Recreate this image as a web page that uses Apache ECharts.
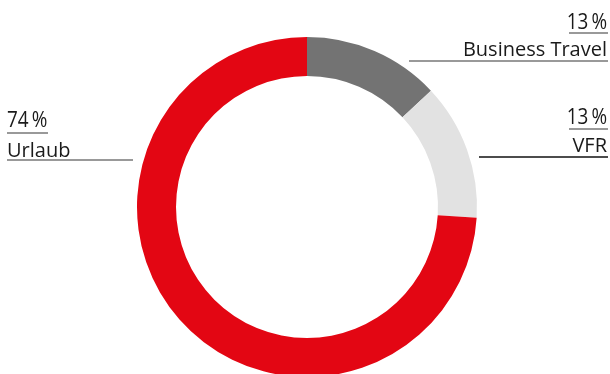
<!DOCTYPE html>
<html>
<head>
<meta charset="utf-8">
<script src="https://cdn.jsdelivr.net/npm/echarts@6/dist/echarts.min.js"></script>
<style>
  html, body { margin: 0; padding: 0; background: #fff; }
  #chart { width: 610px; height: 374px; }
</style>
</head>
<body>
<div id="chart"></div>
<script>
// Travel purpose shares, clockwise from twelve o'clock
const categories = ['Business Travel', 'VFR', 'Urlaub'];
const shares = [13, 13, 74];

const sliceColors = ['#737373', '#e2e2e2', '#e30613'];
const FONT = '"Open Sans", "Noto Sans", sans-serif';
const pct = v => v + '\u2009%';

// Label blocks: anchor x, align, top of value line, top of name line, rule geometry
const labelBoxes = [
  { x: 607, align: 'right', vy: 13, ny: 40, ux0: 569, ux1: 608, uy: 33, lx0: 409, lx1: 608, ly: 61, lineColor: '#777777' },
  { x: 607, align: 'right', vy: 108, ny: 136, ux0: 569, ux1: 608, uy: 129, lx0: 479, lx1: 608, ly: 157, lineColor: '#111111' },
  { x: 7, align: 'left', vy: 111, ny: 141, ux0: 7, ux1: 48, uy: 133, lx0: 7, lx1: 133, ly: 160, lineColor: '#777777' }
];

const graphics = [];
categories.forEach((name, i) => {
  const b = labelBoxes[i];
  graphics.push({
    type: 'text', x: b.x, y: b.vy, scaleX: 0.9,
    style: { text: pct(shares[i]), font: '21px ' + FONT, fill: '#1a1a1a', align: b.align, verticalAlign: 'top' }
  });
  graphics.push({
    type: 'text', x: b.x, y: b.ny,
    style: { text: name, font: '20px ' + FONT, fill: '#1a1a1a', align: b.align, verticalAlign: 'top' }
  });
  graphics.push({
    type: 'line', shape: { x1: b.ux0, y1: b.uy, x2: b.ux1, y2: b.uy },
    style: { stroke: '#777777', lineWidth: 1.5 }
  });
  graphics.push({
    type: 'line', shape: { x1: b.lx0, y1: b.ly, x2: b.lx1, y2: b.ly },
    style: { stroke: b.lineColor, lineWidth: 1.5 }
  });
});

const chart = echarts.init(document.getElementById('chart'), null, { renderer: 'canvas' });
chart.setOption({
  animation: false,
  series: [{
    type: 'pie',
    center: [307, 207],
    radius: [131, 170],
    startAngle: 90,
    clockwise: true,
    label: { show: false },
    labelLine: { show: false },
    emphasis: { disabled: true },
    itemStyle: { borderWidth: 0 },
    data: categories.map((name, i) => ({ name, value: shares[i], itemStyle: { color: sliceColors[i] } }))
  }],
  graphic: graphics
});
</script>
</body>
</html>
